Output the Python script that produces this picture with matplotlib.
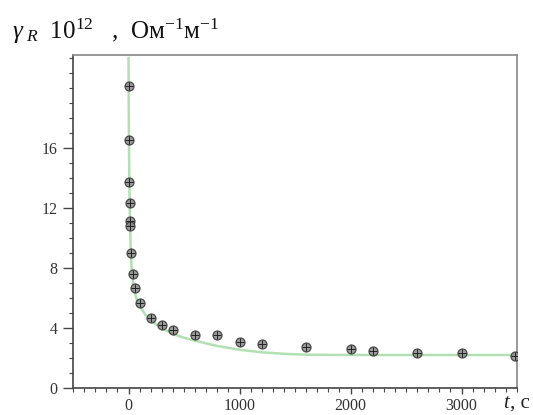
import matplotlib.pyplot as plt
import numpy as np
from matplotlib.ticker import MultipleLocator

plt.rcParams['font.family'] = ['Liberation Serif', 'DejaVu Serif']
plt.rcParams['mathtext.fontset'] = 'custom'
plt.rcParams['mathtext.rm'] = 'Liberation Serif'
plt.rcParams['mathtext.it'] = 'Liberation Serif:italic'

# measured points, t in seconds, gamma in 1e-12 Ohm^-1 m^-1
t_meas = [0, 0, 0, 10, 10, 10, 20, 45, 60, 100, 200, 300, 400, 600, 800,
          1000, 1200, 1600, 2000, 2200, 2600, 3000, 3480]
g_meas = [20.1, 16.5, 13.7, 12.3, 11.1, 10.8, 9.0, 7.6, 6.7, 5.7, 4.7, 4.2, 3.9,
          3.55, 3.55, 3.1, 2.95, 2.75, 2.6, 2.5, 2.35, 2.35, 2.15]

# fitted curve
t_fit = [0, 2, 5, 10, 15, 20, 30, 45, 70, 100, 150, 200, 300, 400, 500, 600,
         800, 1000, 1200, 1400, 1600, 2000, 2500, 3000, 3500]
g_fit = [22.0, 19.0, 15.5, 12.5, 10.5, 9.2, 7.8, 6.7, 6.0, 5.5, 4.9, 4.5, 4.0,
         3.6, 3.35, 3.15, 2.8, 2.55, 2.38, 2.28, 2.22, 2.2, 2.2, 2.2, 2.2]

y_ticks = [0, 4, 8, 12, 16]
x_ticks = [0, 1000, 2000, 3000]

fig = plt.figure(figsize=(5.33, 4.15), dpi=100)
ax = fig.add_axes([73/533, 1 - 388/415, 444/533, 333/415])

ax.plot(t_fit, g_fit, color='#b2e0b2', lw=1.8, zorder=2)
ax.scatter(t_meas, g_meas, s=42, facecolor='#8a8a8a', edgecolor='#333333',
           linewidth=0.9, alpha=0.85, zorder=3)
ax.scatter(t_meas, g_meas, s=36, marker='+', color='#222222', linewidth=0.7, zorder=4)

ax.set_xlim(-500, 3500)
ax.set_ylim(0, 22.2)
ax.set_xticks(x_ticks)
ax.set_yticks(y_ticks)
ax.xaxis.set_minor_locator(MultipleLocator(100))
ax.yaxis.set_minor_locator(MultipleLocator(1))
ax.tick_params(which='major', width=1, color='#444444',
               labelsize=11.5, labelcolor='#333333', direction='out')
ax.tick_params(axis='y', which='major', length=7, pad=4)
ax.tick_params(axis='x', which='major', length=4, pad=3)
ax.tick_params(which='minor', length=3, width=0.8, color='#444444', direction='out')

for side in ['left', 'bottom']:
    ax.spines[side].set_color('#444444')
    ax.spines[side].set_linewidth(1.2)
for side in ['top', 'right']:
    ax.spines[side].set_color('#888888')
    ax.spines[side].set_linewidth(1.2)

fig.text(12/533, 1 - 39/415, r'$\gamma_{\ R}$  $10^{12}$   ,  Ом$^{-1}$м$^{-1}$',
         fontsize=18, color='#111111', va='baseline')
fig.text(503/533, 1 - 408/415, 't', fontsize=15, style='italic', color='#222222',
         va='baseline')
fig.text(510/533, 1 - 408/415, ', с', fontsize=15, color='#222222', va='baseline')

fig.savefig('out.png', dpi=100)
